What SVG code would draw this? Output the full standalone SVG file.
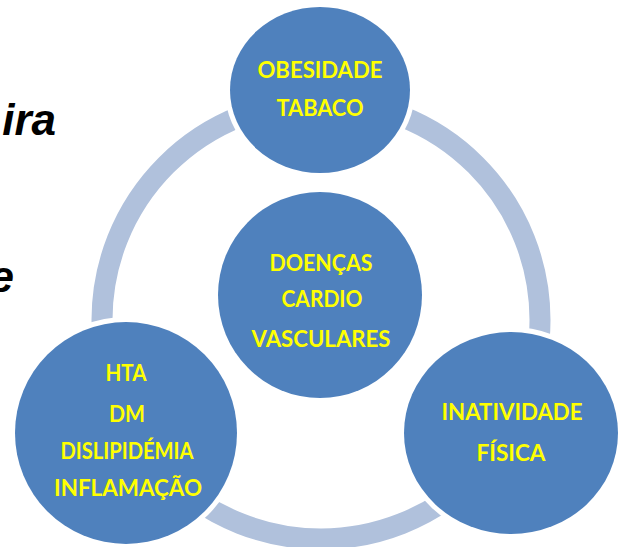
<svg xmlns="http://www.w3.org/2000/svg" width="621" height="547" viewBox="0 0 621 547">
  <style>
    .node { fill: #4F81BD; stroke: #FFFFFF; stroke-width: 10; paint-order: stroke; }
    .lbl { font-family: Lato, "Liberation Sans", sans-serif; font-weight: bold; font-size: 23px; fill: #FFFF00; text-anchor: middle; }
    .frag { font-family: "Liberation Sans", Arial, sans-serif; font-weight: bold; font-style: italic; font-size: 44px; fill: #000000; text-anchor: end; }
  </style>
  <rect width="621" height="547" fill="#FFFFFF"/>
  <text class="frag" x="56" y="135">ira</text>
  <text class="frag" x="14" y="292">e</text>
  <g id="connectors">
    <circle cx="321" cy="320" r="219" fill="none" stroke="#B0C1DC" stroke-width="21"/>
  </g>
  <g id="node-obesidade">
    <ellipse class="node" cx="320" cy="90" rx="90" ry="83"/>
    <text class="lbl" x="320" y="78" textLength="125" lengthAdjust="spacingAndGlyphs">OBESIDADE</text>
    <text class="lbl" x="320" y="116" textLength="87" lengthAdjust="spacingAndGlyphs">TABACO</text>
  </g>
  <g id="node-doencas">
    <ellipse class="node" cx="320" cy="295" rx="102" ry="103"/>
    <text class="lbl" x="321" y="271" textLength="103" lengthAdjust="spacingAndGlyphs">DOENÇAS</text>
    <text class="lbl" x="322" y="307" textLength="81" lengthAdjust="spacingAndGlyphs">CARDIO</text>
    <text class="lbl" x="321" y="347" textLength="139" lengthAdjust="spacingAndGlyphs">VASCULARES</text>
  </g>
  <g id="node-fatores">
    <circle class="node" cx="126" cy="433" r="111"/>
    <text class="lbl" x="126" y="381" textLength="41" lengthAdjust="spacingAndGlyphs">HTA</text>
    <text class="lbl" x="127" y="422" textLength="36" lengthAdjust="spacingAndGlyphs">DM</text>
    <text class="lbl" x="127" y="459" textLength="133" lengthAdjust="spacingAndGlyphs">DISLIPIDÉMIA</text>
    <text class="lbl" x="128" y="496" textLength="148" lengthAdjust="spacingAndGlyphs">INFLAMAÇÃO</text>
  </g>
  <g id="node-inatividade">
    <ellipse class="node" cx="511" cy="433" rx="107" ry="101"/>
    <text class="lbl" x="512" y="420" textLength="141" lengthAdjust="spacingAndGlyphs">INATIVIDADE</text>
    <text class="lbl" x="511" y="461" textLength="69" lengthAdjust="spacingAndGlyphs">FÍSICA</text>
  </g>
</svg>
